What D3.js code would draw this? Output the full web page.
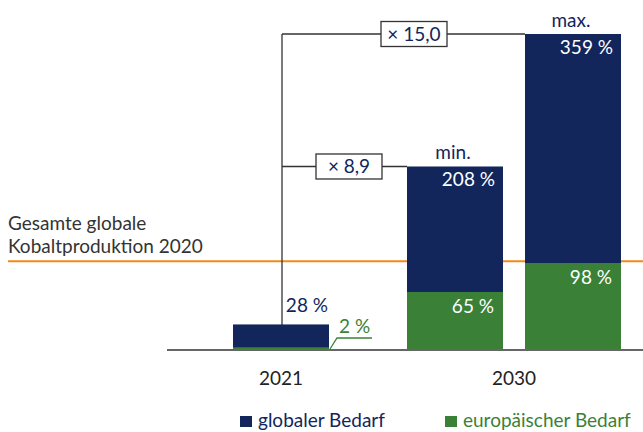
<!DOCTYPE html>
<html>
<head>
<meta charset="utf-8">
<script src="https://cdn.jsdelivr.net/npm/d3@7"></script>
<style>
  html, body { margin: 0; padding: 0; background: #fff; }
  svg { display: block; font-family: Lato, "Open Sans", sans-serif; }
</style>
</head>
<body>
<svg id="chart" width="643" height="432"></svg>
<script>
// Cobalt demand relative to total global production 2020 (in %)
const categories = ["2021", "2030"];
const scenarios2030 = ["min.", "max."];
const globalDemand = [28, 208, 359];     // 2021, 2030 min., 2030 max.
const europeanDemand = [2, 65, 98];      // 2021, 2030 min., 2030 max.
const growthFactors = ["× 8,9", "× 15,0"]; // 2030 min./max. vs. 2021
const productionLevel = 100;             // total global cobalt production 2020
const seriesNames = ["globaler Bedarf", "europäischer Bedarf"];

const NAVY = "#12265c";
const GREEN = "#3a8137";
const ORANGE = "#f28a17";
const INK = "#333333";
const FS = 19;

const svg = d3.select("#chart");
const W = 643;

const y = d3.scaleLinear().domain([0, 359]).range([349, 34]);
const baseY = 350;

const x0 = d3.scaleBand().domain(categories).range([164.5, 630.5]);
const x1 = d3.scaleBand().domain(scenarios2030).range([0, x0.bandwidth()])
  .paddingInner(22 / 118).paddingOuter(9.5 / 118);
const barW = x1.bandwidth();

const bars = [
  { key: "2021", x: x0("2021") + (x0.bandwidth() - barW) / 2, g: globalDemand[0], e: europeanDemand[0] },
  { key: "min.", x: x0("2030") + x1("min."), g: globalDemand[1], e: europeanDemand[1] },
  { key: "max.", x: x0("2030") + x1("max."), g: globalDemand[2], e: europeanDemand[2] }
];

// reference line: global production 2020
svg.append("line")
  .attr("x1", 8).attr("x2", W)
  .attr("y1", y(productionLevel)).attr("y2", y(productionLevel))
  .attr("stroke", ORANGE).attr("stroke-width", 2);

const refText = svg.append("text").attr("x", 8).attr("fill", INK).attr("font-size", FS);
refText.append("tspan").attr("x", 8).attr("y", 230).text("Gesamte globale");
refText.append("tspan").attr("x", 8).attr("y", 253).text("Kobaltproduktion 2020");

// growth brackets
const bx = bars[0].x + barW / 2 + 1;
svg.append("line")
  .attr("x1", bx).attr("x2", bx)
  .attr("y1", y(globalDemand[2])).attr("y2", y(globalDemand[0]) + 2)
  .attr("stroke", INK).attr("stroke-width", 1.3);
const boxOffset = [67, 132];
[[1, 0], [2, 1]].forEach(([bi, fi]) => {
  const b = bars[bi];
  const yy = y(b.g);
  svg.append("line")
    .attr("x1", bx).attr("x2", b.x)
    .attr("y1", yy).attr("y2", yy)
    .attr("stroke", INK).attr("stroke-width", 1.3);
  const cx = bx + boxOffset[fi];
  svg.append("rect")
    .attr("x", cx - 33).attr("y", yy - 12.5)
    .attr("width", 66).attr("height", 25)
    .attr("fill", "#fff").attr("stroke", INK).attr("stroke-width", 1.3);
  svg.append("text")
    .attr("x", cx).attr("y", yy + 6.5)
    .attr("text-anchor", "middle").attr("font-size", FS)
    .attr("fill", NAVY).text(growthFactors[fi]);
});

// bars: global demand with European share in front
svg.selectAll("rect.global").data(bars).join("rect")
  .attr("class", "global")
  .attr("x", d => d.x).attr("width", barW)
  .attr("y", d => y(d.g)).attr("height", d => y(0) - y(d.g))
  .attr("fill", NAVY);
svg.selectAll("rect.eu").data(bars).join("rect")
  .attr("class", "eu")
  .attr("x", d => d.x).attr("width", barW)
  .attr("y", d => y(d.e)).attr("height", d => y(0) - y(d.e))
  .attr("fill", GREEN);

// baseline
svg.append("line")
  .attr("x1", 167).attr("x2", W)
  .attr("y1", baseY).attr("y2", baseY)
  .attr("stroke", INK).attr("stroke-width", 1.3);

// value labels
const fmt = v => `${v} %`;
svg.append("text").attr("x", bars[0].x + barW - 1).attr("y", 312)
  .attr("text-anchor", "end").attr("font-size", FS).attr("fill", NAVY)
  .text(fmt(globalDemand[0]));
bars.slice(1).forEach(b => {
  svg.append("text").attr("x", b.x + barW - 8).attr("y", y(b.g) + 20)
    .attr("text-anchor", "end").attr("font-size", FS).attr("fill", "#fff")
    .text(fmt(b.g));
  svg.append("text").attr("x", b.x + barW - 9).attr("y", y(b.e) + 21)
    .attr("text-anchor", "end").attr("font-size", FS).attr("fill", "#fff")
    .text(fmt(b.e));
  svg.append("text").attr("x", b.x + barW / 2 - 2).attr("y", y(b.g) - 7)
    .attr("text-anchor", "middle").attr("font-size", FS).attr("fill", NAVY)
    .text(b.key);
});

// European 2021 label with leader
const lx = bars[0].x + barW;
svg.append("path")
  .attr("d", `M${lx + 1},${baseY - 1} L${lx + 8},${baseY - 12} L${lx + 43},${baseY - 12}`)
  .attr("fill", "none").attr("stroke", GREEN).attr("stroke-width", 1.3);
svg.append("text").attr("x", lx + 10).attr("y", 333)
  .attr("font-size", FS).attr("fill", GREEN).text(fmt(europeanDemand[0]));

// category axis labels
svg.selectAll("text.cat").data(categories).join("text")
  .attr("class", "cat")
  .attr("x", d => x0(d) + x0.bandwidth() / 2).attr("y", 385)
  .attr("text-anchor", "middle").attr("font-size", FS).attr("fill", "#222")
  .text(d => d);

// legend
const legend = [
  { name: seriesNames[0], color: NAVY, x: 240 },
  { name: seriesNames[1], color: GREEN, x: 445 }
];
const lg = svg.selectAll("g.leg").data(legend).join("g")
  .attr("class", "leg").attr("transform", d => `translate(${d.x},0)`);
lg.append("rect").attr("x", 0).attr("y", 416).attr("width", 12).attr("height", 11)
  .attr("fill", d => d.color);
lg.append("text").attr("x", 18).attr("y", 427).attr("font-size", FS)
  .attr("fill", d => d.color).text(d => d.name);
</script>
</body>
</html>
